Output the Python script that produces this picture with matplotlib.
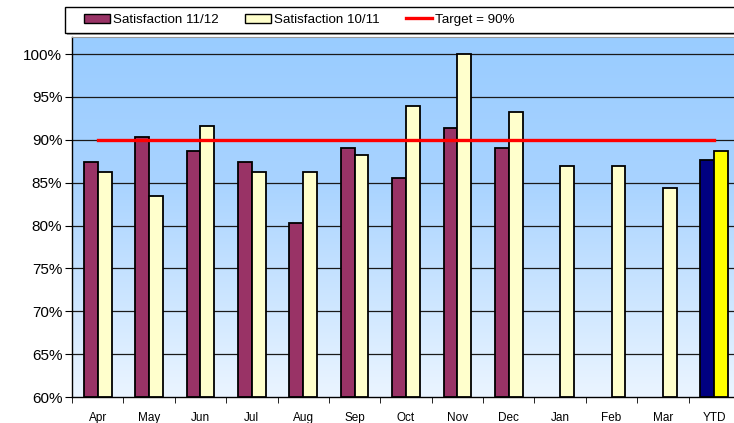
import matplotlib
matplotlib.use("Agg")
import matplotlib.pyplot as plt
import numpy as np
from matplotlib.colors import LinearSegmentedColormap
from matplotlib.patches import Rectangle, Patch
from matplotlib.lines import Line2D

plt.rcParams['font.family'] = ['Liberation Sans', 'DejaVu Sans']

# data
months = ['Apr', 'May', 'Jun', 'Jul', 'Aug', 'Sep', 'Oct', 'Nov', 'Dec', 'Jan', 'Feb', 'Mar', 'YTD']
sat_1112 = [87.45, 90.3, 88.7, 87.45, 80.3, 89.05, 85.5, 91.4, 89.1, None, None, None, 87.65]
sat_1011 = [86.2, 83.4, 91.65, 86.2, 86.3, 88.2, 93.9, 100.0, 93.3, 87.0, 86.9, 84.4, 88.7]
target = 90

fig = plt.figure(figsize=(7.34, 4.23), dpi=100)
ax = fig.add_axes([72/734, 26/423, 668/734, 360/423])

# gradient plot background
cmap = LinearSegmentedColormap.from_list('bg', [(0, '#EBF5FF'), (0.6, '#A8D3FF'), (1, '#99CCFF')])
grad = np.linspace(0, 1, 256).reshape(-1, 1)
ax.imshow(grad, cmap=cmap, aspect='auto', origin='lower',
          extent=[-0.5, 12.5, 60, 102], zorder=0)

ax.set_xlim(-0.5, 12.5)
ax.set_ylim(60, 102)

x = np.arange(len(months))
w = 0.27
for i in range(len(months)):
    c1 = '#000080' if months[i] == 'YTD' else '#993366'
    c2 = '#FFFF00' if months[i] == 'YTD' else '#FFFFCC'
    if sat_1112[i] is not None:
        ax.bar(x[i] - w/2, sat_1112[i] - 60, w, bottom=60, color=c1,
               edgecolor='black', linewidth=1.3, zorder=3)
    ax.bar(x[i] + w/2, sat_1011[i] - 60, w, bottom=60, color=c2,
           edgecolor='black', linewidth=1.3, zorder=3)

ax.plot([x[0], x[-1]], [target, target], color='#FF0000', lw=2.4, zorder=4)

# grid
for v in range(65, 101, 5):
    ax.axhline(v, color='#1a1a1a', lw=0.9, zorder=1)

ax.set_yticks(range(60, 101, 5))
ax.set_yticklabels([f'{v}%' for v in range(60, 101, 5)], fontsize=11)
ax.set_xticks(x)
ax.set_xticklabels(months, fontsize=8.5)
ax.set_xticks(np.arange(-0.5, 13, 1), minor=True)
ax.tick_params(axis='x', which='major', length=0, pad=11)
ax.tick_params(axis='x', which='minor', length=4, direction='out')
ax.tick_params(axis='y', length=5, direction='out', pad=2)

ax.spines['right'].set_visible(False)
ax.spines['top'].set_color('#999999')
ax.spines['left'].set_linewidth(1.0)
ax.spines['bottom'].set_linewidth(1.0)

# legend box with a soft shadow
fig.patches.append(Rectangle((67/734, 1 - 35/423), 700/734, 26/423,
                             transform=fig.transFigure, facecolor='#aaaaaa',
                             edgecolor='none'))
fig.patches.append(Rectangle((65/734, 1 - 33/423), 700/734, 26/423,
                             transform=fig.transFigure, facecolor='white',
                             edgecolor='black', lw=1.0))
handles = [Patch(facecolor='#993366', edgecolor='black', lw=1.0),
           Patch(facecolor='#FFFFCC', edgecolor='black', lw=1.0),
           Line2D([], [], color='#FF0000', lw=2.4)]
fig.legend(handles, ['Satisfaction 11/12', 'Satisfaction 10/11', 'Target = 90%'],
           ncol=3, loc='center left', bbox_to_anchor=(84/734, 1 - 20/423),
           frameon=False, fontsize=9.6, handlelength=1.97, handleheight=0.7,
           handletextpad=0.23, columnspacing=1.95, borderpad=0, borderaxespad=0)

fig.savefig('out.png', dpi=100)
